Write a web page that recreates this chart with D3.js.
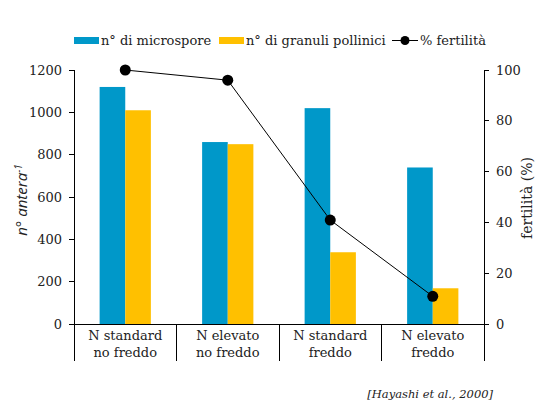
<!DOCTYPE html>
<html><head><meta charset="utf-8">
<script src="https://cdn.jsdelivr.net/npm/d3@7/dist/d3.min.js"></script>
<style>body{margin:0;background:#fff}svg{display:block}</style>
</head><body>
<script>
const categories = [["N standard","no freddo"],["N elevato","no freddo"],["N standard","freddo"],["N elevato","freddo"]];
const microspore = [1120, 860, 1020, 740];
const granuli = [1010, 850, 340, 170];
const fertilita = [100, 96, 41, 11];
const leftTicks = [0,200,400,600,800,1000,1200];
const rightTicks = [0,20,40,60,80,100];
const seriesNames = ["n° di microspore","n° di granuli pollinici","% fertilità"];
const colors = ["#0098C9","#FFC000"];
const serif = "'DejaVu Serif', serif";

const W=556,H=413;
const svg=d3.select("body").append("svg").attr("width",W).attr("height",H);
const x0=74,x1=484,yTop=70,yBot=324.3;
const x=d3.scaleBand().domain(d3.range(categories.length)).range([x0,x1]);
const yL=d3.scaleLinear().domain([0,1200]).range([yBot,yTop]);
const yR=d3.scaleLinear().domain([0,100]).range([yBot,yTop]);
const bw=x.bandwidth()*0.25;

// bars
const g=svg.append("g");
categories.forEach((c,i)=>{
  const cx=x(i)+x.bandwidth()/2;
  g.append("rect").attr("x",cx-bw).attr("width",bw).attr("y",yL(microspore[i])).attr("height",yBot-yL(microspore[i])).attr("fill",colors[0]);
  g.append("rect").attr("x",cx).attr("width",bw).attr("y",yL(granuli[i])).attr("height",yBot-yL(granuli[i])).attr("fill",colors[1]);
});

// axes
const ax=svg.append("g").attr("stroke","#000").attr("stroke-width",1).attr("shape-rendering","crispEdges");
ax.append("line").attr("x1",x0).attr("x2",x0).attr("y1",yTop).attr("y2",361);
ax.append("line").attr("x1",x1).attr("x2",x1).attr("y1",yTop).attr("y2",361);
ax.append("line").attr("x1",x0-5).attr("x2",x1+5).attr("y1",yBot).attr("y2",yBot);
categories.forEach((c,i)=>{ if(i>0) ax.append("line").attr("x1",x(i)).attr("x2",x(i)).attr("y1",yBot).attr("y2",361);});
leftTicks.forEach(t=>ax.append("line").attr("x1",x0-5).attr("x2",x0).attr("y1",yL(t)).attr("y2",yL(t)));
rightTicks.forEach(t=>ax.append("line").attr("x1",x1).attr("x2",x1+5).attr("y1",yR(t)).attr("y2",yR(t)));

const txt=svg.append("g").attr("font-family",serif).attr("font-size",13).attr("fill","#222");
leftTicks.forEach(t=>txt.append("text").attr("x",x0-12).attr("y",yL(t)).attr("dy","0.35em").attr("text-anchor","end").text(t));
rightTicks.forEach(t=>txt.append("text").attr("x",x1+12).attr("y",yR(t)).attr("dy","0.35em").attr("text-anchor","start").text(t));
categories.forEach((c,i)=>{
  const cx=x(i)+x.bandwidth()/2;
  c.forEach((l,j)=>txt.append("text").attr("x",cx).attr("y",340+j*17).attr("text-anchor","middle").text(l));
});

// line
svg.append("path").datum(fertilita).attr("fill","none").attr("stroke","#000").attr("stroke-width",1)
  .attr("d",d3.line().x((d,i)=>x(i)+x.bandwidth()/2).y(d=>yR(d)));
svg.selectAll("circle.pt").data(fertilita).join("circle").attr("class","pt")
  .attr("cx",(d,i)=>x(i)+x.bandwidth()/2).attr("cy",d=>yR(d)).attr("r",5.5).attr("fill","#000");

// titles
svg.append("text").attr("transform","translate(27,200) rotate(-90)").attr("text-anchor","middle")
  .attr("font-family","'Open Sans', sans-serif").attr("font-style","italic").attr("font-size",15).attr("fill","#222")
  .html("n° antera<tspan dy='-5' font-size='10'>-1</tspan>");
svg.append("text").attr("transform","translate(532,198) rotate(-90)").attr("text-anchor","middle")
  .attr("font-family",serif).attr("font-size",14).attr("fill","#222").text("fertilità (%)");

// legend
const lg=svg.append("g").attr("font-family",serif).attr("font-size",13).attr("fill","#222");
lg.append("rect").attr("x",74).attr("y",37).attr("width",25).attr("height",7).attr("fill",colors[0]);
lg.append("text").attr("x",101).attr("y",45).text(seriesNames[0]);
lg.append("rect").attr("x",219).attr("y",37).attr("width",25).attr("height",7).attr("fill",colors[1]);
lg.append("text").attr("x",246).attr("y",45).text(seriesNames[1]);
lg.append("line").attr("x1",392).attr("x2",418).attr("y1",40.5).attr("y2",40.5).attr("stroke","#000");
lg.append("circle").attr("cx",405).attr("cy",40.5).attr("r",4.5).attr("fill","#000");
lg.append("text").attr("x",420).attr("y",45).text(seriesNames[2]);

svg.append("text").attr("x",493).attr("y",398).attr("text-anchor","end").attr("font-family",serif)
  .attr("font-style","italic").attr("font-size",11.5).attr("fill","#222").text("[Hayashi et al., 2000]");
</script>
</body></html>
